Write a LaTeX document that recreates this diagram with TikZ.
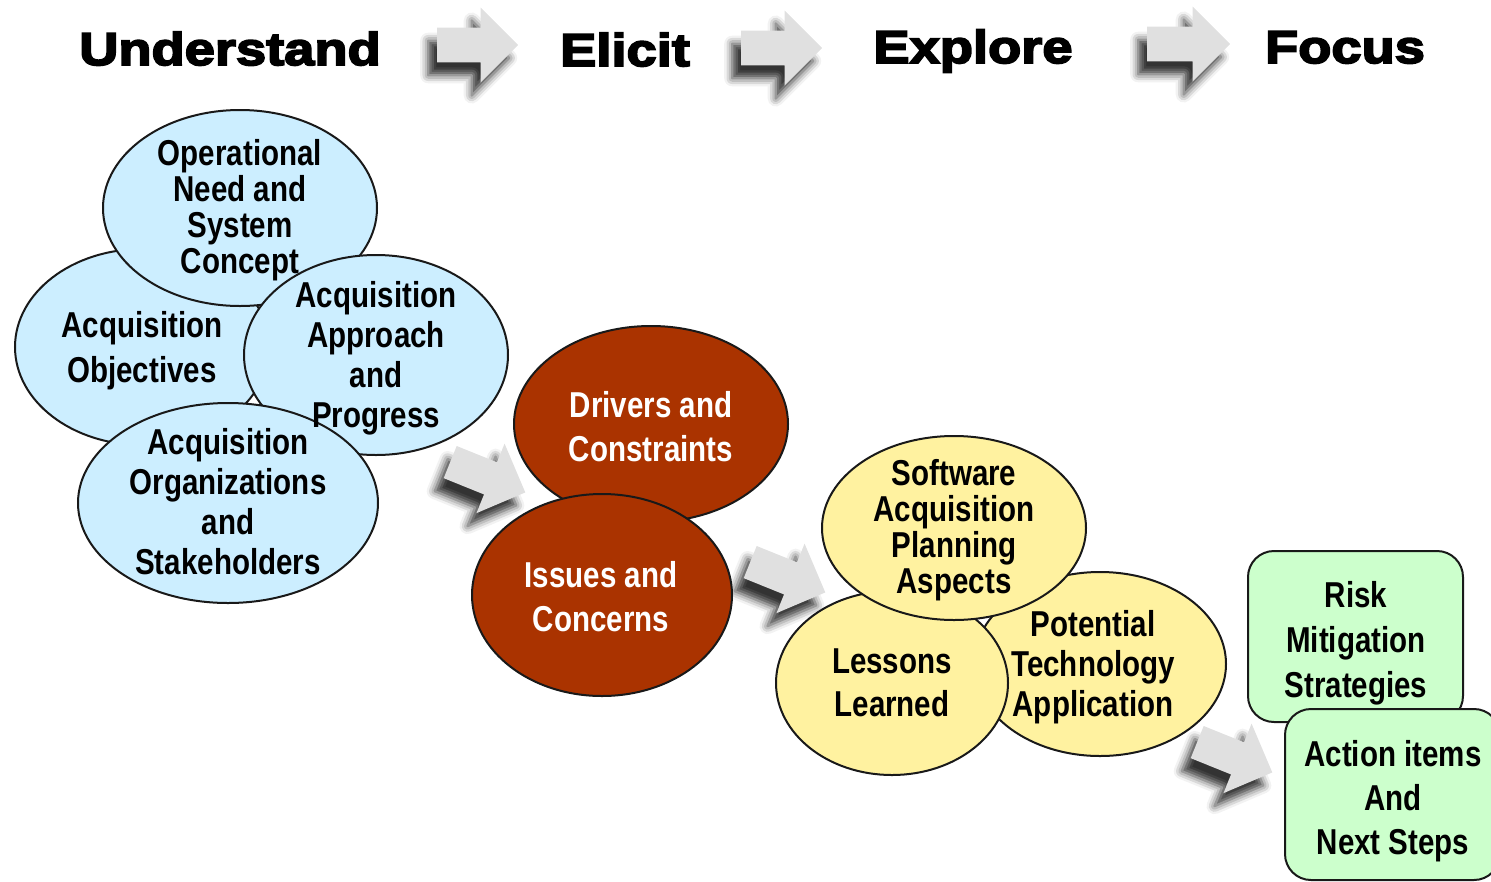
\documentclass[tikz,border=0pt]{standalone}
\usepackage{fontspec}
\setmainfont{Liberation Sans}
\newfontfamily\bubblefont{Liberation Sans Bold}[FakeStretch=0.82]
\newfontfamily\headfont{Liberation Sans Bold}[FakeStretch=1.18,FakeBold=4]
\usetikzlibrary{shapes.geometric,shapes.arrows,shadows.blur}
\definecolor{bubbleblue}{RGB}{204,238,255}
\definecolor{bubblered}{RGB}{170,51,0}
\definecolor{bubbleyellow}{RGB}{255,242,160}
\definecolor{cardgreen}{RGB}{204,255,204}
\definecolor{arrowgray}{RGB}{224,224,224}
\tikzset{
  bubble/.style={ellipse, draw=black!90, line width=2pt, inner sep=0pt},
  card/.style={rectangle, rounded corners=26pt, draw=black!90, line width=2pt,
    fill=cardgreen, minimum width=215pt, minimum height=171pt},
  bubbletext/.style={font=\bubblefont\fontsize{36}{#1}\selectfont, align=center, inner sep=0pt},
  heading/.style={font=\headfont\fontsize{46}{46}\selectfont, anchor=base, inner sep=0pt},
  flow/.style={single arrow, fill=arrowgray, minimum width=75pt, minimum height=81pt,
    single arrow head extend=20pt, single arrow head indent=0pt,
    inner xsep=0pt, inner ysep=17pt, anchor=tail,
    blur shadow={shadow xshift=-9pt, shadow yshift=-13pt, shadow opacity=80, shadow blur radius=8pt}}
}
\begin{document}
\begin{tikzpicture}[x=1pt,y=-1pt]
  \useasboundingbox (0,0) rectangle (1491,881);
  % phase headings
  \node[heading] (understand) at (230,65) {Understand};
  \node[heading] (elicit) at (625,66) {Elicit};
  \node[heading] (explore) at (973,63) {Explore};
  \node[heading] (focus) at (1345,63) {Focus};
  % block arrows
  \node[flow] (a1) at (437,45) {};
  \node[flow] (a2) at (741,48) {};
  \node[flow, minimum height=83pt] (a3) at (1147,44) {};
  \node[flow, rotate=-22] (b1) at (450,462) {};
  \node[flow, rotate=-22] (b2) at (750,562) {};
  \node[flow, rotate=-22] (b3) at (1197,742) {};
  % understand
  \node[bubble, fill=bubbleblue, minimum width=254pt, minimum height=196pt] (obj) at (142,347) {};
  \node[bubble, fill=bubbleblue, minimum width=274pt, minimum height=196pt] (opn) at (240,208) {};
  \node[bubble, fill=bubbleblue, minimum width=264pt, minimum height=200pt] (app) at (376,355) {};
  \node[bubble, fill=bubbleblue, minimum width=300pt, minimum height=200pt] (org) at (228,503) {};
  % elicit
  \node[bubble, fill=bubblered, minimum width=274pt, minimum height=196pt] (drv) at (651,424) {};
  \node[bubble, fill=bubblered, minimum width=260pt, minimum height=202pt] (iss) at (602,595) {};
  % explore
  \node[bubble, fill=bubbleyellow, minimum width=252pt, minimum height=184pt] (pot) at (1100,664) {};
  \node[bubble, fill=bubbleyellow, minimum width=232pt, minimum height=184pt] (les) at (892,683) {};
  \node[bubble, fill=bubbleyellow, minimum width=264pt, minimum height=184pt] (sw) at (954,528) {};
  % focus
  \node[card] (risk) at (1355.5,636.5) {};
  \node[card] (act) at (1392.5,794.5) {};
  % texts
  \node[bubbletext=36] (opn-t) at (240,210) {Operational\\Need and\\System\\Concept};
  \node[bubbletext=45] (obj-t) at (142,351) {Acquisition\\Objectives};
  \node[bubbletext=40] (app-t) at (376,358) {Acquisition\\Approach\\and\\Progress};
  \node[bubbletext=40] (org-t) at (228,502) {Acquisition\\Organizations\\and\\Stakeholders};
  \node[bubbletext=44, text=white] (drv-t) at (651,427) {Drivers and\\Constraints};
  \node[bubbletext=44, text=white] (iss-t) at (601,597) {Issues and\\Concerns};
  \node[bubbletext=36] (sw-t) at (954,530) {Software\\Acquisition\\Planning\\Aspects};
  \node[bubbletext=43] (les-t) at (892,683) {Lessons\\Learned};
  \node[bubbletext=40] (pot-t) at (1093,667) {Potential\\Technology\\Application};
  \node[bubbletext=45] (risk-t) at (1356,643) {Risk\\Mitigation\\Strategies};
  \node[bubbletext=44] (act-t) at (1393,801) {Action items\\And\\Next Steps};
\end{tikzpicture}
\end{document}
